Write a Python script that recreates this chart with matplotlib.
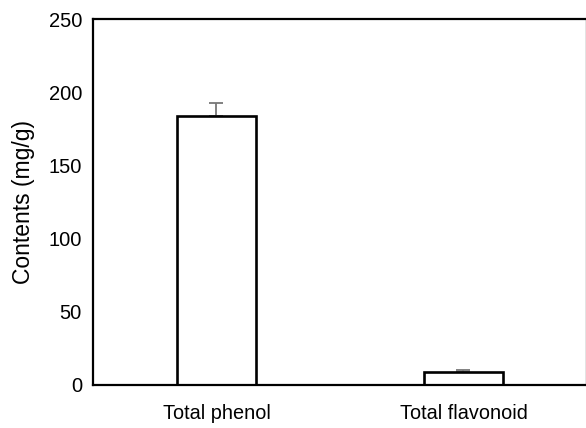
import matplotlib
matplotlib.use("Agg")
import matplotlib.pyplot as plt

# contents of the two extracts
categories = ["Total phenol", "Total flavonoid"]
contents = [184, 9]
errors = [8.5, 1]

plt.rcParams['font.family'] = ['Liberation Sans', 'DejaVu Sans']

fig = plt.figure(figsize=(5.86, 4.28), dpi=100)
ax = fig.add_axes([0.1587, 0.1005, 0.8430, 0.8551])

pos = list(range(len(categories)))
ax.bar(pos, contents, width=0.32, color="white", edgecolor="black", linewidth=1.9, zorder=2)
ax.errorbar(pos, contents, yerr=[[0] * len(errors), errors], fmt="none",
            ecolor="#777777", elinewidth=1.3, capsize=5, capthick=1.3, zorder=1)

ax.set_xlim(-0.5, 1.5)
ax.set_ylim(0, 250)
ax.set_yticks([0, 50, 100, 150, 200, 250])
ax.set_xticks(pos)
ax.set_xticklabels(categories)
ax.tick_params(axis="both", length=0, colors="black")
ax.tick_params(axis="y", labelsize=14.5, pad=8)
ax.tick_params(axis="x", labelsize=14.3, pad=14)
ax.set_ylabel("Contents (mg/g)", fontsize=16.5, labelpad=10)

for side in ["left", "bottom", "top", "right"]:
    ax.spines[side].set_linewidth(1.6)

fig.savefig("out.png", dpi=100)
